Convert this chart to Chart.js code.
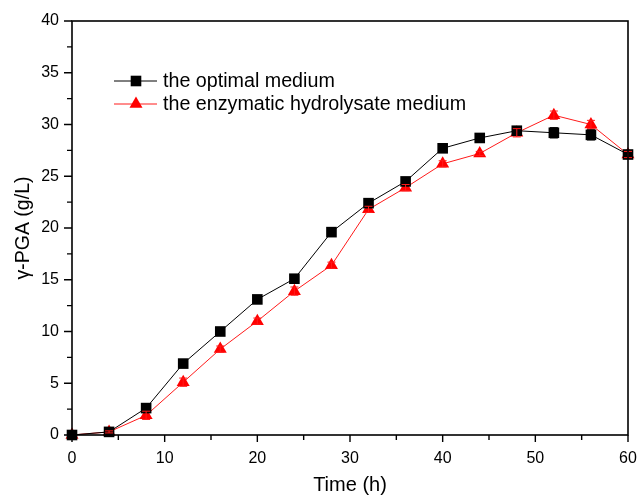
<!DOCTYPE html>
<html><head><meta charset="utf-8">
<script src="https://cdn.jsdelivr.net/npm/chart.js@4/dist/chart.umd.min.js"></script>
<style>html,body{margin:0;padding:0;background:#fff}#wrap{width:638px;height:497px}</style>
</head><body><div id="wrap"><canvas id="c" width="638" height="497"></canvas></div>
<script>
const timeH = [0,4,8,12,16,20,24,28,32,36,40,44,48,52,56,60];
const optimal = [0,0.3,2.6,6.9,10.0,13.1,15.1,19.6,22.4,24.5,27.7,28.7,29.4,29.2,29.0,27.1];
const optimalErr = [0,0.1,0.2,0.2,0.2,0.2,0.2,0.2,0.2,0.2,0.2,0.2,0.3,0.5,0.5,0.3];
const hydrolysate = [0,0.3,1.9,5.1,8.3,11.0,13.9,16.4,21.8,23.9,26.2,27.2,29.2,30.9,30.0,27.1];
const hydrolysateErr = [0,0.1,0.4,0.4,0.3,0.3,0.4,0.3,0.3,0.3,0.3,0.2,0.4,0.4,0.4,0.3];
const yMajor = [0,5,10,15,20,25,30,35,40];
const xMajor = [0,10,20,30,40,50,60];
const labels = ['the optimal medium','the enzymatic hydrolysate medium'];

const FONT = 'Liberation Sans, Arial, sans-serif';

const framePlugin = {
  id:'frame',
  afterDatasetsDraw(chart){
    const ctx = chart.ctx, a = chart.chartArea, xs = chart.scales.x, ys = chart.scales.y;
    ctx.save();
    chart.data.datasets.forEach((ds,i)=>{
      ctx.strokeStyle = ds.borderColor; ctx.lineWidth = 1;
      ds.data.forEach((p,j)=>{
        const e = ds.err[j]; if(!e) return;
        const x = xs.getPixelForValue(p.x);
        const y1 = ys.getPixelForValue(p.y+e), y2 = ys.getPixelForValue(p.y-e);
        ctx.beginPath();
        ctx.moveTo(x,y1);ctx.lineTo(x,y2);
        ctx.moveTo(x-4,y1);ctx.lineTo(x+4,y1);
        ctx.moveTo(x-4,y2);ctx.lineTo(x+4,y2);
        ctx.stroke();
      });
    });
    ctx.strokeStyle = '#000'; ctx.lineWidth = 1.6;
    ctx.strokeRect(a.left, a.top, a.right-a.left, a.bottom-a.top);
    ctx.lineWidth = 1.4;
    ctx.beginPath();
    for(let v=0; v<=40; v+=2.5){
      const y = ys.getPixelForValue(v);
      const len = (v%5===0)?8:5;
      ctx.moveTo(a.left,y);ctx.lineTo(a.left-len,y);
    }
    for(let v=0; v<=60; v+=5){
      const x = xs.getPixelForValue(v);
      const len = (v%10===0)?7:5;
      ctx.moveTo(x,a.bottom);ctx.lineTo(x,a.bottom+len);
    }
    ctx.stroke();
    const lx0 = 114, lx1 = 157, lmx = 136, tx = 163;
    const ly = [81,104];
    chart.data.datasets.forEach((ds,i)=>{
      const y = ly[i];
      ctx.strokeStyle = ds.borderColor; ctx.lineWidth = 1;
      ctx.beginPath();ctx.moveTo(lx0,y);ctx.lineTo(lx1,y);ctx.stroke();
      ctx.fillStyle = ds.pointBackgroundColor;
      ctx.beginPath();
      if(ds.pointStyle==='rect'){const s=ds.pointRadius*Math.SQRT1_2;ctx.rect(lmx-s,y-s,2*s,2*s);}
      else{const r=ds.pointRadius;ctx.moveTo(lmx,y-r);ctx.lineTo(lmx+r*0.866,y+r/2);ctx.lineTo(lmx-r*0.866,y+r/2);ctx.closePath();}
      ctx.fill();
      ctx.fillStyle='#000';ctx.font='19.7px '+FONT;ctx.textBaseline='middle';ctx.textAlign='left';
      ctx.fillText(labels[i],tx,y+1);
    });
    ctx.restore();
  }
};

new Chart(document.getElementById('c'),{
  type:'line',
  data:{datasets:[
    {label:labels[0],data:timeH.map((t,i)=>({x:t,y:optimal[i]})),err:optimalErr,
     borderColor:'#000',backgroundColor:'#000',pointBackgroundColor:'#000',pointBorderColor:'#000',
     borderWidth:1,pointStyle:'rect',pointRadius:7.5,pointBorderWidth:0,tension:0,clip:false},
    {label:labels[1],data:timeH.map((t,i)=>({x:t,y:hydrolysate[i]})),err:hydrolysateErr,
     borderColor:'#ff1a1a',backgroundColor:'#ff0000',pointBackgroundColor:'#ff0000',pointBorderColor:'#ff0000',
     borderWidth:1,pointStyle:'triangle',pointRadius:7.5,pointBorderWidth:0,tension:0,clip:false}
  ]},
  options:{
    responsive:false,animation:false,
    layout:{padding:{left:0,top:21,right:10,bottom:0}},
    plugins:{legend:{display:false},tooltip:{enabled:false}},
    scales:{
      x:{type:'linear',min:0,max:60,
        afterBuildTicks(s){s.ticks=xMajor.map(v=>({value:v}));},
        afterFit(s){s.height=62;s.paddingLeft=0;s.paddingRight=0;},
        grid:{display:false,drawTicks:false},border:{display:false},
        ticks:{color:'#000',font:{family:FONT,size:16},padding:14,maxRotation:0,autoSkip:false},
        title:{display:true,text:'Time (h)',color:'#000',font:{family:FONT,size:20},padding:{top:6,bottom:0}}},
      y:{type:'linear',min:0,max:40,
        afterBuildTicks(s){s.ticks=yMajor.map(v=>({value:v}));},
        afterFit(s){s.width=72;s.paddingTop=0;s.paddingBottom=0;},
        grid:{display:false,drawTicks:false},border:{display:false},
        ticks:{color:'#000',font:{family:FONT,size:16},padding:13},
        title:{display:true,text:'γ-PGA (g/L)',color:'#000',font:{family:FONT,size:19.5},padding:{top:12,bottom:0}}}
    }
  },
  plugins:[framePlugin]
});
</script></body></html>
